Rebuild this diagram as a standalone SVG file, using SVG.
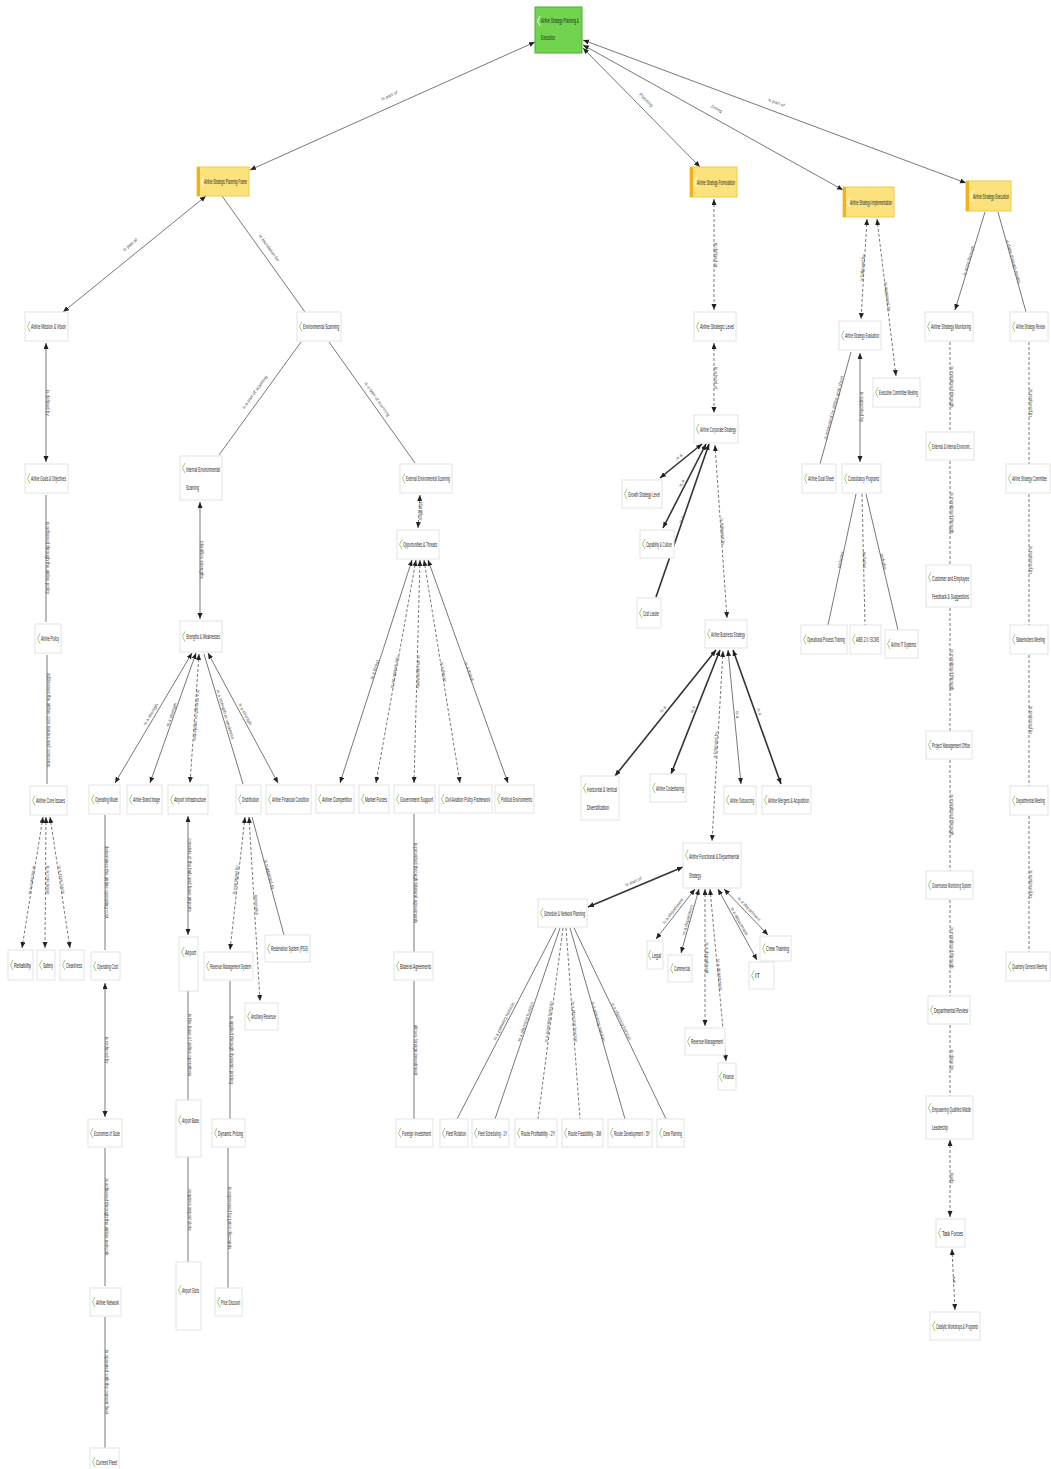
<svg xmlns="http://www.w3.org/2000/svg" width="1051" height="1469" viewBox="0 0 1051 1469">
<defs>
<marker id="ah" markerUnits="userSpaceOnUse" markerWidth="7" markerHeight="6" refX="6" refY="2.5" orient="auto-start-reverse"><path d="M0,0 L6,2.5 L0,5 z" fill="#222"/></marker>
<style>
.node rect.b{fill:#fff;stroke:#e4e4e4;stroke-width:1}
.node path.mk{fill:none;stroke:#9ad17a;stroke-width:1}
.yel rect.b{fill:#fbe27d;stroke:#efc94a}
.yel rect.bar{fill:#f1b31c}
.yel path.mk,.root path.mk{stroke:#fff}
.root rect.b{fill:#72d34e;stroke:#4fae2f}
text.nt{font-family:"Liberation Sans",Arial,sans-serif;font-size:7px;fill:#222}
.e{stroke:#555;stroke-width:.8;fill:none}
.d{stroke-dasharray:3 2}
.t{stroke-width:1.6;stroke:#333}
.a2{marker-start:url(#ah);marker-end:url(#ah)}
.a1{marker-end:url(#ah)}
.as{marker-start:url(#ah)}
text.el{font-family:"Liberation Sans",Arial,sans-serif;font-size:4.5px;fill:#555;text-anchor:middle}
</style>
</defs>
<rect width="1051" height="1469" fill="#fff"/>

<g id="connectors">
<line class="e a2" x1="535" y1="42" x2="250" y2="170"/>
<line class="e a2" x1="583" y1="48" x2="700" y2="167"/>
<line class="e a2" x1="583" y1="45" x2="843" y2="190"/>
<line class="e a2" x1="583" y1="40" x2="966" y2="183"/>
<line class="e a2" x1="206" y1="196" x2="63" y2="312"/>
<line class="e" x1="222" y1="196" x2="305" y2="312"/>
<line class="e a2" x1="46" y1="343" x2="46" y2="462"/>
<line class="e" x1="46" y1="495" x2="46" y2="622"/>
<line class="e" x1="47" y1="655" x2="47" y2="784"/>
<line class="e d a2" x1="43" y1="817" x2="22" y2="948"/>
<line class="e d a2" x1="46" y1="817" x2="45" y2="948"/>
<line class="e d a2" x1="50" y1="817" x2="70" y2="948"/>
<line class="e" x1="301" y1="342" x2="219" y2="455"/>
<line class="e" x1="329" y1="342" x2="415" y2="463"/>
<line class="e a2" x1="200" y1="502" x2="200" y2="619"/>
<line class="e d a2" x1="420" y1="495" x2="418" y2="528"/>
<line class="e a2" x1="192" y1="653" x2="115" y2="783"/>
<line class="e a2" x1="196" y1="653" x2="150" y2="783"/>
<line class="e d a2" x1="199" y1="654" x2="190" y2="783"/>
<line class="e" x1="204" y1="654" x2="243" y2="784"/>
<line class="e a2" x1="208" y1="653" x2="278" y2="783"/>
<line class="e" x1="105" y1="815" x2="105" y2="950"/>
<line class="e a2" x1="105" y1="983" x2="105" y2="1117"/>
<line class="e" x1="105" y1="1148" x2="105" y2="1286"/>
<line class="e" x1="105" y1="1317" x2="105" y2="1448"/>
<line class="e a2" x1="188" y1="816" x2="188" y2="935"/>
<line class="e" x1="188" y1="991" x2="188" y2="1100"/>
<line class="e" x1="188" y1="1157" x2="188" y2="1262"/>
<line class="e d a2" x1="245" y1="817" x2="230" y2="950"/>
<line class="e d a2" x1="249" y1="817" x2="260" y2="1001"/>
<line class="e" x1="252" y1="817" x2="284" y2="935"/>
<line class="e" x1="230" y1="981" x2="230" y2="1119"/>
<line class="e" x1="228" y1="1148" x2="228" y2="1288"/>
<line class="e a2" x1="412" y1="560" x2="340" y2="783"/>
<line class="e d a2" x1="416" y1="560" x2="376" y2="783"/>
<line class="e d a2" x1="420" y1="560" x2="414" y2="783"/>
<line class="e d a2" x1="424" y1="560" x2="460" y2="783"/>
<line class="e a2" x1="428" y1="560" x2="508" y2="783"/>
<line class="e" x1="414" y1="814" x2="414" y2="952"/>
<line class="e" x1="414" y1="981" x2="414" y2="1119"/>
<line class="e d a2" x1="714" y1="199" x2="714" y2="310"/>
<line class="e d a2" x1="714" y1="343" x2="714" y2="413"/>
<line class="e t a2" x1="702" y1="444" x2="660" y2="478"/>
<line class="e t a2" x1="706" y1="444" x2="663" y2="528"/>
<line class="e t as" x1="709" y1="444" x2="656" y2="597"/>
<line class="e d a2" x1="715" y1="445" x2="727" y2="618"/>
<line class="e t a2" x1="716" y1="650" x2="615" y2="776"/>
<line class="e t a2" x1="720" y1="650" x2="671" y2="774"/>
<line class="e a2" x1="728" y1="650" x2="741" y2="784"/>
<line class="e t a2" x1="733" y1="650" x2="781" y2="784"/>
<line class="e d a2" x1="723" y1="651" x2="712" y2="841"/>
<line class="e t a2" x1="683" y1="867" x2="588" y2="907"/>
<line class="e a2" x1="695" y1="889" x2="656" y2="939"/>
<line class="e a2" x1="699" y1="889" x2="681" y2="953"/>
<line class="e d a2" x1="705" y1="889" x2="705" y2="1026"/>
<line class="e d a2" x1="710" y1="889" x2="726" y2="1061"/>
<line class="e a2" x1="718" y1="889" x2="757" y2="960"/>
<line class="e a2" x1="724" y1="889" x2="768" y2="935"/>
<line class="e" x1="556" y1="928" x2="457" y2="1119"/>
<line class="e" x1="560" y1="928" x2="495" y2="1119"/>
<line class="e d" x1="563" y1="928" x2="538" y2="1119"/>
<line class="e d" x1="566" y1="928" x2="580" y2="1119"/>
<line class="e" x1="570" y1="928" x2="625" y2="1119"/>
<line class="e" x1="574" y1="928" x2="666" y2="1119"/>
<line class="e d a2" x1="867" y1="219" x2="861" y2="319"/>
<line class="e d a2" x1="877" y1="219" x2="896" y2="376"/>
<line class="e" x1="851" y1="352" x2="820" y2="464"/>
<line class="e a2" x1="860" y1="353" x2="860" y2="462"/>
<line class="e" x1="856" y1="494" x2="828" y2="625"/>
<line class="e d" x1="862" y1="494" x2="865" y2="625"/>
<line class="e" x1="866" y1="494" x2="898" y2="630"/>
<line class="e a1" x1="985" y1="212" x2="955" y2="310"/>
<line class="e" x1="998" y1="212" x2="1026" y2="312"/>
<line class="e d" x1="950" y1="342" x2="950" y2="432"/>
<line class="e d" x1="950" y1="461" x2="950" y2="565"/>
<line class="e d" x1="950" y1="608" x2="950" y2="731"/>
<line class="e d" x1="950" y1="760" x2="950" y2="871"/>
<line class="e d" x1="950" y1="900" x2="950" y2="996"/>
<line class="e d" x1="950" y1="1025" x2="950" y2="1096"/>
<line class="e d a2" x1="950" y1="1140" x2="950" y2="1217"/>
<line class="e d a2" x1="952" y1="1249" x2="955" y2="1310"/>
<line class="e d" x1="1029" y1="342" x2="1029" y2="464"/>
<line class="e d" x1="1029" y1="494" x2="1029" y2="625"/>
<line class="e d" x1="1029" y1="655" x2="1029" y2="786"/>
<line class="e d" x1="1029" y1="816" x2="1029" y2="952"/>

<text class="el" transform="translate(390,97) rotate(-24)">is part of</text>
<text class="el" transform="translate(645,101) rotate(45)">Planning</text>
<text class="el" transform="translate(716,110) rotate(29)">Doing</text>
<text class="el" transform="translate(776,104) rotate(20)">is part of</text>
<text class="el" transform="translate(131,246) rotate(-39)">is part of</text>
<text class="el" transform="translate(268,249) rotate(54)">is foundation for</text>
<text class="el" transform="translate(46,403) rotate(90)">is defined by</text>
<text class="el" transform="translate(46,558) rotate(90)">is achieved through the airline policy</text>
<text class="el" transform="translate(47,720) rotate(90)">addresses the airline core issues and concerns</text>
<text class="el" transform="translate(33,880) rotate(-81)">is a core issue</text>
<text class="el" transform="translate(46,880) rotate(90)">is a core issue</text>
<text class="el" transform="translate(60,880) rotate(81)">is a core issue</text>
<text class="el" transform="translate(256,393) rotate(-54)">is a part of scanning</text>
<text class="el" transform="translate(376,400) rotate(55)">is a type of scanning</text>
<text class="el" transform="translate(200,560) rotate(90)">identifies strengths</text>
<text class="el" transform="translate(419,511) rotate(90)">identifies</text>
<text class="el" transform="translate(152,715) rotate(-59)">is a strength</text>
<text class="el" transform="translate(173,715) rotate(-70)">is a strength</text>
<text class="el" transform="translate(195,715) rotate(94)">is a strength or weakness</text>
<text class="el" transform="translate(224,715) rotate(73)">is a strength or weakness</text>
<text class="el" transform="translate(244,715) rotate(62)">is a strength</text>
<text class="el" transform="translate(105,882) rotate(90)">determines the airline operating cost</text>
<text class="el" transform="translate(105,1050) rotate(90)">is reduced by</text>
<text class="el" transform="translate(105,1217) rotate(90)">is achieved through the airline network</text>
<text class="el" transform="translate(105,1382) rotate(90)">is operated with the current fleet</text>
<text class="el" transform="translate(188,875) rotate(90)">consists of the hub and base airports</text>
<text class="el" transform="translate(188,1045) rotate(90)">is the base of airline operations</text>
<text class="el" transform="translate(188,1210) rotate(90)">requires airport slots</text>
<text class="el" transform="translate(237,880) rotate(-84)">is managed by</text>
<text class="el" transform="translate(255,905) rotate(87)">generates</text>
<text class="el" transform="translate(268,875) rotate(75)">is supported by</text>
<text class="el" transform="translate(230,1050) rotate(90)">is applied through dynamic pricing</text>
<text class="el" transform="translate(228,1218) rotate(90)">is expressed by price discounts</text>
<text class="el" transform="translate(376,670) rotate(-72)">is a threat</text>
<text class="el" transform="translate(396,672) rotate(-80)">is an opportunity</text>
<text class="el" transform="translate(417,672) rotate(91)">is an opportunity</text>
<text class="el" transform="translate(442,672) rotate(81)">is a threat</text>
<text class="el" transform="translate(468,672) rotate(70)">is a threat</text>
<text class="el" transform="translate(414,883) rotate(90)">is provided through bilateral agreements</text>
<text class="el" transform="translate(414,1050) rotate(90)">allows foreign investment</text>
<text class="el" transform="translate(714,255) rotate(90)">is defined at</text>
<text class="el" transform="translate(714,378) rotate(90)">is a level of</text>
<text class="el" transform="translate(680,458) rotate(-39)">is a</text>
<text class="el" transform="translate(683,484) rotate(-63)">is a</text>
<text class="el" transform="translate(683,520) rotate(-71)">is a</text>
<text class="el" transform="translate(721,532) rotate(86)">is followed by</text>
<text class="el" transform="translate(664,710) rotate(-51)">is a</text>
<text class="el" transform="translate(694,710) rotate(-68)">is a</text>
<text class="el" transform="translate(736,715) rotate(84)">is a</text>
<text class="el" transform="translate(758,712) rotate(70)">is a</text>
<text class="el" transform="translate(717,745) rotate(-87)">is followed by</text>
<text class="el" transform="translate(634,883) rotate(-23)">is part of</text>
<text class="el" transform="translate(674,912) rotate(-52)">is a department</text>
<text class="el" transform="translate(689,920) rotate(-74)">is a department</text>
<text class="el" transform="translate(705,958) rotate(90)">is a department</text>
<text class="el" transform="translate(718,975) rotate(85)">is a department</text>
<text class="el" transform="translate(738,922) rotate(61)">is a department</text>
<text class="el" transform="translate(748,910) rotate(47)">is a department</text>
<text class="el" transform="translate(505,1022) rotate(-63)">is a planning horizon</text>
<text class="el" transform="translate(527,1022) rotate(-71)">is a planning horizon</text>
<text class="el" transform="translate(550,1022) rotate(-83)">is a planning horizon</text>
<text class="el" transform="translate(573,1022) rotate(86)">is a planning horizon</text>
<text class="el" transform="translate(597,1022) rotate(74)">is a planning horizon</text>
<text class="el" transform="translate(620,1022) rotate(64)">is a planning horizon</text>
<text class="el" transform="translate(864,268) rotate(-86)">is followed by</text>
<text class="el" transform="translate(886,297) rotate(83)">is approved by</text>
<text class="el" transform="translate(835,408) rotate(-75)">is measured by airline goal sheet</text>
<text class="el" transform="translate(860,407) rotate(90)">is supported by</text>
<text class="el" transform="translate(842,560) rotate(-78)">includes</text>
<text class="el" transform="translate(863,560) rotate(89)">includes</text>
<text class="el" transform="translate(882,562) rotate(77)">includes</text>
<text class="el" transform="translate(970,261) rotate(-73)">is done through</text>
<text class="el" transform="translate(1012,262) rotate(74)">is done through review</text>
<text class="el" transform="translate(950,387) rotate(90)">is monitored through</text>
<text class="el" transform="translate(950,513) rotate(90)">is monitored through</text>
<text class="el" transform="translate(950,670) rotate(90)">is monitored through</text>
<text class="el" transform="translate(950,815) rotate(90)">is monitored through</text>
<text class="el" transform="translate(950,948) rotate(90)">is monitored through</text>
<text class="el" transform="translate(950,1060) rotate(90)">is done by</text>
<text class="el" transform="translate(950,1178) rotate(90)">leads</text>
<text class="el" transform="translate(953,1280) rotate(87)">run</text>
<text class="el" transform="translate(1029,403) rotate(90)">is reviewed in</text>
<text class="el" transform="translate(1029,560) rotate(90)">is reviewed in</text>
<text class="el" transform="translate(1029,720) rotate(90)">is reviewed in</text>
<text class="el" transform="translate(1029,884) rotate(90)">is reviewed in</text>
</g>

<g id="n-root" class="node root"><rect class="b" x="535" y="7" width="47" height="46"/><path class="mk" d="M540,16 L537.5,21 L540,26"/><text class="nt" x="541" y="23" textLength="38" lengthAdjust="spacingAndGlyphs">Airline Strategy Planning &amp;</text><text class="nt" x="541" y="40" textLength="14" lengthAdjust="spacingAndGlyphs">Execution</text></g>

<g id="n-frame" class="node yel"><rect class="b" x="197" y="167" width="52" height="29"/><rect class="bar" x="197" y="167" width="3" height="29"/><path class="mk" d="M204,176.5 L201.5,181.5 L204,186.5"/><text class="nt" x="204" y="184" textLength="43" lengthAdjust="spacingAndGlyphs">Airline Strategic Planning Frame</text></g>
<g id="n-form" class="node yel"><rect class="b" x="690" y="167" width="47" height="30"/><rect class="bar" x="690" y="167" width="3" height="30"/><path class="mk" d="M697,177 L694.5,182 L697,187"/><text class="nt" x="697" y="185" textLength="38" lengthAdjust="spacingAndGlyphs">Airline Strategy Formulation</text></g>
<g id="n-impl" class="node yel"><rect class="b" x="843" y="187" width="51" height="30"/><rect class="bar" x="843" y="187" width="3" height="30"/><path class="mk" d="M850,197 L847.5,202 L850,207"/><text class="nt" x="850" y="205" textLength="42" lengthAdjust="spacingAndGlyphs">Airline Strategy Implementation</text></g>
<g id="n-exec" class="node yel"><rect class="b" x="966" y="181" width="45" height="30"/><rect class="bar" x="966" y="181" width="3" height="30"/><path class="mk" d="M973,191 L970.5,196 L973,201"/><text class="nt" x="973" y="199" textLength="36" lengthAdjust="spacingAndGlyphs">Airline Strategy Execution</text></g>

<g id="n-mv" class="node"><rect class="b" x="25" y="312" width="43" height="29"/><path class="mk" d="M30,321.5 L27.5,326.5 L30,331.5"/><text class="nt" x="31" y="329" textLength="35" lengthAdjust="spacingAndGlyphs">Airline Mission &amp; Vision</text></g>
<g id="n-env" class="node"><rect class="b" x="297" y="312" width="44" height="29"/><path class="mk" d="M302,321.5 L299.5,326.5 L302,331.5"/><text class="nt" x="303" y="329" textLength="36" lengthAdjust="spacingAndGlyphs">Environmental Scanning</text></g>
<g id="n-goals" class="node"><rect class="b" x="25" y="464" width="43" height="29"/><path class="mk" d="M30,473.5 L27.5,478.5 L30,483.5"/><text class="nt" x="31" y="481" textLength="35" lengthAdjust="spacingAndGlyphs">Airline Goals &amp; Objectives</text></g>
<g id="n-policy" class="node"><rect class="b" x="35" y="624" width="26" height="29"/><path class="mk" d="M40,633.5 L37.5,638.5 L40,643.5"/><text class="nt" x="41" y="641" textLength="18" lengthAdjust="spacingAndGlyphs">Airline Policy</text></g>
<g id="n-core" class="node"><rect class="b" x="30" y="786" width="37" height="29"/><path class="mk" d="M35,795.5 L32.5,800.5 L35,805.5"/><text class="nt" x="36" y="803" textLength="29" lengthAdjust="spacingAndGlyphs">Airline Core Issues</text></g>
<g id="n-rel" class="node"><rect class="b" x="8" y="950" width="25" height="30"/><path class="mk" d="M13,960 L10.5,965 L13,970"/><text class="nt" x="14" y="968" textLength="17" lengthAdjust="spacingAndGlyphs">Reliability</text></g>
<g id="n-safety" class="node"><rect class="b" x="37" y="950" width="18" height="30"/><path class="mk" d="M42,960 L39.5,965 L42,970"/><text class="nt" x="43" y="968" textLength="10" lengthAdjust="spacingAndGlyphs">Safety</text></g>
<g id="n-clean" class="node"><rect class="b" x="60" y="950" width="24" height="30"/><path class="mk" d="M65,960 L62.5,965 L65,970"/><text class="nt" x="66" y="968" textLength="16" lengthAdjust="spacingAndGlyphs">Cleanliness</text></g>

<g id="n-int" class="node"><rect class="b" x="180" y="456" width="42" height="44"/><path class="mk" d="M185,463 L182.5,468 L185,473"/><text class="nt" x="186" y="472" textLength="34" lengthAdjust="spacingAndGlyphs">Internal Environmental</text><text class="nt" x="186" y="490" textLength="13" lengthAdjust="spacingAndGlyphs">Scanning</text></g>
<g id="n-ext" class="node"><rect class="b" x="400" y="464" width="52" height="29"/><path class="mk" d="M405,473.5 L402.5,478.5 L405,483.5"/><text class="nt" x="406" y="481" textLength="44" lengthAdjust="spacingAndGlyphs">External Environmental Scanning</text></g>
<g id="n-sw" class="node"><rect class="b" x="180" y="621" width="42" height="31"/><path class="mk" d="M185,631.5 L182.5,636.5 L185,641.5"/><text class="nt" x="186" y="639" textLength="34" lengthAdjust="spacingAndGlyphs">Strengths &amp; Weaknesses</text></g>
<g id="n-ot" class="node"><rect class="b" x="397" y="530" width="42" height="29"/><path class="mk" d="M402,539.5 L399.5,544.5 L402,549.5"/><text class="nt" x="403" y="547" textLength="34" lengthAdjust="spacingAndGlyphs">Opportunities &amp; Threats</text></g>

<g id="n-opm" class="node"><rect class="b" x="89" y="785" width="31" height="29"/><path class="mk" d="M94,794.5 L91.5,799.5 L94,804.5"/><text class="nt" x="95" y="802" textLength="23" lengthAdjust="spacingAndGlyphs">Operating Model</text></g>
<g id="n-brand" class="node"><rect class="b" x="127" y="785" width="35" height="29"/><path class="mk" d="M132,794.5 L129.5,799.5 L132,804.5"/><text class="nt" x="133" y="802" textLength="27" lengthAdjust="spacingAndGlyphs">Airline Brand Image</text></g>
<g id="n-apinf" class="node"><rect class="b" x="168" y="785" width="40" height="29"/><path class="mk" d="M173,794.5 L170.5,799.5 L173,804.5"/><text class="nt" x="174" y="802" textLength="32" lengthAdjust="spacingAndGlyphs">Airport Infrastructure</text></g>
<g id="n-dist" class="node"><rect class="b" x="236" y="785" width="25" height="29"/><path class="mk" d="M241,794.5 L238.5,799.5 L241,804.5"/><text class="nt" x="242" y="802" textLength="17" lengthAdjust="spacingAndGlyphs">Distribution</text></g>
<g id="n-fin" class="node"><rect class="b" x="266" y="785" width="45" height="29"/><path class="mk" d="M271,794.5 L268.5,799.5 L271,804.5"/><text class="nt" x="272" y="802" textLength="37" lengthAdjust="spacingAndGlyphs">Airline Financial Condition</text></g>

<g id="n-opcost" class="node"><rect class="b" x="91" y="952" width="29" height="28"/><path class="mk" d="M96,961 L93.5,966 L96,971"/><text class="nt" x="97" y="969" textLength="21" lengthAdjust="spacingAndGlyphs">Operating Cost</text></g>
<g id="n-eos" class="node"><rect class="b" x="88" y="1119" width="34" height="28"/><path class="mk" d="M93,1128 L90.5,1133 L93,1138"/><text class="nt" x="94" y="1136" textLength="26" lengthAdjust="spacingAndGlyphs">Economies of Scale</text></g>
<g id="n-net" class="node"><rect class="b" x="90" y="1288" width="31" height="28"/><path class="mk" d="M95,1297 L92.5,1302 L95,1307"/><text class="nt" x="96" y="1305" textLength="23" lengthAdjust="spacingAndGlyphs">Airline Network</text></g>
<g id="n-fleet" class="node"><rect class="b" x="90" y="1448" width="29" height="28"/><path class="mk" d="M95,1457 L92.5,1462 L95,1467"/><text class="nt" x="96" y="1465" textLength="21" lengthAdjust="spacingAndGlyphs">Current Fleet</text></g>

<g id="n-airport" class="node"><rect class="b" x="179" y="937" width="19" height="54"/><path class="mk" d="M184,947 L181.5,952 L184,957"/><text class="nt" x="185" y="955" textLength="11" lengthAdjust="spacingAndGlyphs">Airport</text></g>
<g id="n-apbase" class="node"><rect class="b" x="176" y="1100" width="25" height="57"/><path class="mk" d="M181,1115 L178.5,1120 L181,1125"/><text class="nt" x="182" y="1123" textLength="17" lengthAdjust="spacingAndGlyphs">Airport Base</text></g>
<g id="n-apslots" class="node"><rect class="b" x="176" y="1262" width="25" height="68"/><path class="mk" d="M181,1285 L178.5,1290 L181,1295"/><text class="nt" x="182" y="1293" textLength="17" lengthAdjust="spacingAndGlyphs">Airport Slots</text></g>

<g id="n-rms" class="node"><rect class="b" x="204" y="952" width="49" height="28"/><path class="mk" d="M209,961 L206.5,966 L209,971"/><text class="nt" x="210" y="969" textLength="41" lengthAdjust="spacingAndGlyphs">Revenue Management System</text></g>
<g id="n-anc" class="node"><rect class="b" x="245" y="1003" width="33" height="27"/><path class="mk" d="M250,1011.5 L247.5,1016.5 L250,1021.5"/><text class="nt" x="251" y="1019" textLength="25" lengthAdjust="spacingAndGlyphs">Ancillary Revenue</text></g>
<g id="n-res" class="node"><rect class="b" x="265" y="935" width="45" height="27"/><path class="mk" d="M270,943.5 L267.5,948.5 L270,953.5"/><text class="nt" x="271" y="951" textLength="37" lengthAdjust="spacingAndGlyphs">Reservation System (PSS)</text></g>
<g id="n-dyn" class="node"><rect class="b" x="212" y="1119" width="33" height="28"/><path class="mk" d="M217,1128 L214.5,1133 L217,1138"/><text class="nt" x="218" y="1136" textLength="25" lengthAdjust="spacingAndGlyphs">Dynamic Pricing</text></g>
<g id="n-price" class="node"><rect class="b" x="215" y="1288" width="27" height="28"/><path class="mk" d="M220,1297 L217.5,1302 L220,1307"/><text class="nt" x="221" y="1305" textLength="19" lengthAdjust="spacingAndGlyphs">Price Discount</text></g>

<g id="n-comp" class="node"><rect class="b" x="316" y="785" width="38" height="28"/><path class="mk" d="M321,794 L318.5,799 L321,804"/><text class="nt" x="322" y="802" textLength="30" lengthAdjust="spacingAndGlyphs">Airline Competition</text></g>
<g id="n-mkt" class="node"><rect class="b" x="359" y="785" width="30" height="28"/><path class="mk" d="M364,794 L361.5,799 L364,804"/><text class="nt" x="365" y="802" textLength="22" lengthAdjust="spacingAndGlyphs">Market Forces</text></g>
<g id="n-gov" class="node"><rect class="b" x="394" y="785" width="41" height="28"/><path class="mk" d="M399,794 L396.5,799 L399,804"/><text class="nt" x="400" y="802" textLength="33" lengthAdjust="spacingAndGlyphs">Government Support</text></g>
<g id="n-civil" class="node"><rect class="b" x="439" y="785" width="53" height="28"/><path class="mk" d="M444,794 L441.5,799 L444,804"/><text class="nt" x="445" y="802" textLength="45" lengthAdjust="spacingAndGlyphs">Civil Aviation Policy Framework</text></g>
<g id="n-pol" class="node"><rect class="b" x="495" y="785" width="39" height="28"/><path class="mk" d="M500,794 L497.5,799 L500,804"/><text class="nt" x="501" y="802" textLength="31" lengthAdjust="spacingAndGlyphs">Political Environments</text></g>
<g id="n-bil" class="node"><rect class="b" x="394" y="952" width="39" height="28"/><path class="mk" d="M399,961 L396.5,966 L399,971"/><text class="nt" x="400" y="969" textLength="31" lengthAdjust="spacingAndGlyphs">Bilateral Agreements</text></g>
<g id="n-fdi" class="node"><rect class="b" x="396" y="1119" width="37" height="28"/><path class="mk" d="M401,1128 L398.5,1133 L401,1138"/><text class="nt" x="402" y="1136" textLength="29" lengthAdjust="spacingAndGlyphs">Foreign Investment</text></g>

<g id="n-slevel" class="node"><rect class="b" x="694" y="312" width="42" height="29"/><path class="mk" d="M699,321.5 L696.5,326.5 L699,331.5"/><text class="nt" x="700" y="329" textLength="34" lengthAdjust="spacingAndGlyphs">Airline Strategic Level</text></g>
<g id="n-corp" class="node"><rect class="b" x="694" y="415" width="44" height="28"/><path class="mk" d="M699,424 L696.5,429 L699,434"/><text class="nt" x="700" y="432" textLength="36" lengthAdjust="spacingAndGlyphs">Airline Corporate Strategy</text></g>
<g id="n-growth" class="node"><rect class="b" x="622" y="480" width="40" height="28"/><path class="mk" d="M627,489 L624.5,494 L627,499"/><text class="nt" x="628" y="497" textLength="32" lengthAdjust="spacingAndGlyphs">Growth Strategy Level</text></g>
<g id="n-cap" class="node"><rect class="b" x="640" y="530" width="34" height="28"/><path class="mk" d="M645,539 L642.5,544 L645,549"/><text class="nt" x="646" y="547" textLength="26" lengthAdjust="spacingAndGlyphs">Capability &amp; Culture</text></g>
<g id="n-cost" class="node"><rect class="b" x="637" y="598" width="24" height="30"/><path class="mk" d="M642,608 L639.5,613 L642,618"/><text class="nt" x="643" y="616" textLength="16" lengthAdjust="spacingAndGlyphs">Cost Leader</text></g>
<g id="n-bus" class="node"><rect class="b" x="705" y="620" width="42" height="28"/><path class="mk" d="M710,629 L707.5,634 L710,639"/><text class="nt" x="711" y="637" textLength="34" lengthAdjust="spacingAndGlyphs">Airline Business Strategy</text></g>
<g id="n-horiz" class="node"><rect class="b" x="581" y="776" width="38" height="44"/><path class="mk" d="M586,783 L583.5,788 L586,793"/><text class="nt" x="587" y="792" textLength="30" lengthAdjust="spacingAndGlyphs">Horizontal &amp; Vertical</text><text class="nt" x="587" y="810" textLength="22" lengthAdjust="spacingAndGlyphs">Diversification</text></g>
<g id="n-code" class="node"><rect class="b" x="650" y="774" width="36" height="28"/><path class="mk" d="M655,783 L652.5,788 L655,793"/><text class="nt" x="656" y="791" textLength="28" lengthAdjust="spacingAndGlyphs">Airline Codesharing</text></g>
<g id="n-out" class="node"><rect class="b" x="724" y="786" width="32" height="28"/><path class="mk" d="M729,795 L726.5,800 L729,805"/><text class="nt" x="730" y="803" textLength="24" lengthAdjust="spacingAndGlyphs">Airline Outsourcing</text></g>
<g id="n-merg" class="node"><rect class="b" x="762" y="786" width="49" height="28"/><path class="mk" d="M767,795 L764.5,800 L767,805"/><text class="nt" x="768" y="803" textLength="41" lengthAdjust="spacingAndGlyphs">Airline Mergers &amp; Acquisition</text></g>
<g id="n-func" class="node"><rect class="b" x="683" y="843" width="58" height="45"/><path class="mk" d="M688,850 L685.5,855 L688,860"/><text class="nt" x="689" y="859" textLength="50" lengthAdjust="spacingAndGlyphs">Airline Functional &amp; Departmental</text><text class="nt" x="689" y="878" textLength="12" lengthAdjust="spacingAndGlyphs">Strategy</text></g>
<g id="n-sched" class="node"><rect class="b" x="538" y="899" width="49" height="28"/><path class="mk" d="M543,908 L540.5,913 L543,918"/><text class="nt" x="544" y="916" textLength="41" lengthAdjust="spacingAndGlyphs">Schedule &amp; Network Planning</text></g>

<g id="n-frot" class="node"><rect class="b" x="440" y="1119" width="28" height="28"/><path class="mk" d="M445,1128 L442.5,1133 L445,1138"/><text class="nt" x="446" y="1136" textLength="20" lengthAdjust="spacingAndGlyphs">Fleet Rotation</text></g>
<g id="n-fsch" class="node"><rect class="b" x="472" y="1119" width="37" height="28"/><path class="mk" d="M477,1128 L474.5,1133 L477,1138"/><text class="nt" x="478" y="1136" textLength="29" lengthAdjust="spacingAndGlyphs">Fleet Scheduling - 1Y</text></g>
<g id="n-rprof" class="node"><rect class="b" x="515" y="1119" width="42" height="28"/><path class="mk" d="M520,1128 L517.5,1133 L520,1138"/><text class="nt" x="521" y="1136" textLength="34" lengthAdjust="spacingAndGlyphs">Route Profitability - 2Y</text></g>
<g id="n-rfeas" class="node"><rect class="b" x="562" y="1119" width="41" height="28"/><path class="mk" d="M567,1128 L564.5,1133 L567,1138"/><text class="nt" x="568" y="1136" textLength="33" lengthAdjust="spacingAndGlyphs">Route Feasibility - 3M</text></g>
<g id="n-rdev" class="node"><rect class="b" x="608" y="1119" width="44" height="28"/><path class="mk" d="M613,1128 L610.5,1133 L613,1138"/><text class="nt" x="614" y="1136" textLength="36" lengthAdjust="spacingAndGlyphs">Route Development - 5Y</text></g>
<g id="n-crewp" class="node"><rect class="b" x="657" y="1119" width="27" height="28"/><path class="mk" d="M662,1128 L659.5,1133 L662,1138"/><text class="nt" x="663" y="1136" textLength="19" lengthAdjust="spacingAndGlyphs">Crew Planning</text></g>

<g id="n-legal" class="node"><rect class="b" x="647" y="941" width="16" height="28"/><path class="mk" d="M651,950 L648.5,955 L651,960"/><text class="nt" x="652" y="958" textLength="9" lengthAdjust="spacingAndGlyphs">Legal</text></g>
<g id="n-comm" class="node"><rect class="b" x="668" y="955" width="24" height="27"/><path class="mk" d="M673,963.5 L670.5,968.5 L673,973.5"/><text class="nt" x="674" y="971" textLength="16" lengthAdjust="spacingAndGlyphs">Commercial</text></g>
<g id="n-rm" class="node"><rect class="b" x="685" y="1028" width="40" height="27"/><path class="mk" d="M690,1036.5 L687.5,1041.5 L690,1046.5"/><text class="nt" x="691" y="1044" textLength="32" lengthAdjust="spacingAndGlyphs">Revenue Management</text></g>
<g id="n-finance" class="node"><rect class="b" x="718" y="1063" width="18" height="27"/><path class="mk" d="M722,1071.5 L719.5,1076.5 L722,1081.5"/><text class="nt" x="723" y="1079" textLength="11" lengthAdjust="spacingAndGlyphs">Finance</text></g>
<g id="n-it" class="node"><rect class="b" x="749" y="962" width="25" height="27"/><path class="mk" d="M754,970.5 L751.5,975.5 L754,980.5"/><text class="nt" x="755" y="978" textLength="5" lengthAdjust="spacingAndGlyphs">IT</text></g>
<g id="n-crewt" class="node"><rect class="b" x="760" y="936" width="31" height="25"/><path class="mk" d="M765,943.5 L762.5,948.5 L765,953.5"/><text class="nt" x="766" y="951" textLength="23" lengthAdjust="spacingAndGlyphs">Crew Training</text></g>

<g id="n-eval" class="node"><rect class="b" x="839" y="321" width="42" height="29"/><path class="mk" d="M844,330.5 L841.5,335.5 L844,340.5"/><text class="nt" x="845" y="338" textLength="34" lengthAdjust="spacingAndGlyphs">Airline Strategy Evaluation</text></g>
<g id="n-ecm" class="node"><rect class="b" x="873" y="378" width="47" height="29"/><path class="mk" d="M878,387.5 L875.5,392.5 L878,397.5"/><text class="nt" x="879" y="395" textLength="39" lengthAdjust="spacingAndGlyphs">Executive Committee Meeting</text></g>
<g id="n-goal" class="node"><rect class="b" x="802" y="464" width="34" height="29"/><path class="mk" d="M807,473.5 L804.5,478.5 L807,483.5"/><text class="nt" x="808" y="481" textLength="26" lengthAdjust="spacingAndGlyphs">Airline Goal Sheet</text></g>
<g id="n-cons" class="node"><rect class="b" x="842" y="464" width="39" height="29"/><path class="mk" d="M847,473.5 L844.5,478.5 L847,483.5"/><text class="nt" x="848" y="481" textLength="31" lengthAdjust="spacingAndGlyphs">Consultancy Programs</text></g>
<g id="n-opt" class="node"><rect class="b" x="801" y="625" width="46" height="29"/><path class="mk" d="M806,634.5 L803.5,639.5 L806,644.5"/><text class="nt" x="807" y="642" textLength="38" lengthAdjust="spacingAndGlyphs">Operational Process Training</text></g>
<g id="n-aibs" class="node"><rect class="b" x="850" y="625" width="31" height="29"/><path class="mk" d="M855,634.5 L852.5,639.5 L855,644.5"/><text class="nt" x="856" y="642" textLength="23" lengthAdjust="spacingAndGlyphs">AIBS 2.0 / SCMS</text></g>
<g id="n-its" class="node"><rect class="b" x="885" y="630" width="33" height="28"/><path class="mk" d="M890,639 L887.5,644 L890,649"/><text class="nt" x="891" y="647" textLength="25" lengthAdjust="spacingAndGlyphs">Airline IT Systems</text></g>

<g id="n-mon" class="node"><rect class="b" x="925" y="312" width="48" height="29"/><path class="mk" d="M930,321.5 L927.5,326.5 L930,331.5"/><text class="nt" x="931" y="329" textLength="40" lengthAdjust="spacingAndGlyphs">Airline Strategy Monitoring</text></g>
<g id="n-rev" class="node"><rect class="b" x="1010" y="312" width="38" height="29"/><path class="mk" d="M1015,321.5 L1012.5,326.5 L1015,331.5"/><text class="nt" x="1016" y="329" textLength="29" lengthAdjust="spacingAndGlyphs">Airline Strategy Review</text></g>
<g id="n-ei" class="node"><rect class="b" x="926" y="432" width="48" height="28"/><path class="mk" d="M931,441 L928.5,446 L931,451"/><text class="nt" x="932" y="449" textLength="40" lengthAdjust="spacingAndGlyphs">External &amp; Internal Environm...</text></g>
<g id="n-cust" class="node"><rect class="b" x="926" y="565" width="45" height="42"/><path class="mk" d="M931,572 L928.5,577 L931,582"/><text class="nt" x="932" y="581" textLength="37" lengthAdjust="spacingAndGlyphs">Customer and Employee</text><text class="nt" x="932" y="599" textLength="37" lengthAdjust="spacingAndGlyphs">Feedback &amp; Suggestions</text></g>
<g id="n-pmo" class="node"><rect class="b" x="926" y="731" width="46" height="28"/><path class="mk" d="M931,740 L928.5,745 L931,750"/><text class="nt" x="932" y="748" textLength="38" lengthAdjust="spacingAndGlyphs">Project Management Office</text></g>
<g id="n-gov2" class="node"><rect class="b" x="926" y="871" width="47" height="28"/><path class="mk" d="M931,880 L928.5,885 L931,890"/><text class="nt" x="932" y="888" textLength="39" lengthAdjust="spacingAndGlyphs">Governance Monitoring System</text></g>
<g id="n-dept" class="node"><rect class="b" x="928" y="996" width="42" height="28"/><path class="mk" d="M933,1005 L930.5,1010 L933,1015"/><text class="nt" x="934" y="1013" textLength="34" lengthAdjust="spacingAndGlyphs">Departmental Review</text></g>
<g id="n-emp" class="node"><rect class="b" x="926" y="1096" width="47" height="43"/><path class="mk" d="M931,1103 L928.5,1108 L931,1113"/><text class="nt" x="932" y="1112" textLength="39" lengthAdjust="spacingAndGlyphs">Empowering Qualified Middle</text><text class="nt" x="932" y="1130" textLength="16" lengthAdjust="spacingAndGlyphs">Leadership</text></g>
<g id="n-task" class="node"><rect class="b" x="936" y="1219" width="29" height="28"/><path class="mk" d="M941,1228 L938.5,1233 L941,1238"/><text class="nt" x="942" y="1236" textLength="21" lengthAdjust="spacingAndGlyphs">Task Forces</text></g>
<g id="n-cat" class="node"><rect class="b" x="930" y="1312" width="50" height="28"/><path class="mk" d="M935,1321 L932.5,1326 L935,1331"/><text class="nt" x="936" y="1329" textLength="42" lengthAdjust="spacingAndGlyphs">Catalytic Workshops &amp; Programs</text></g>
<g id="n-sc" class="node"><rect class="b" x="1006" y="464" width="44" height="29"/><path class="mk" d="M1011,473.5 L1008.5,478.5 L1011,483.5"/><text class="nt" x="1012" y="481" textLength="35" lengthAdjust="spacingAndGlyphs">Airline Strategy Committee</text></g>
<g id="n-stake" class="node"><rect class="b" x="1010" y="625" width="38" height="29"/><path class="mk" d="M1015,634.5 L1012.5,639.5 L1015,644.5"/><text class="nt" x="1016" y="642" textLength="29" lengthAdjust="spacingAndGlyphs">Stakeholders Meeting</text></g>
<g id="n-dmeet" class="node"><rect class="b" x="1010" y="786" width="38" height="29"/><path class="mk" d="M1015,795.5 L1012.5,800.5 L1015,805.5"/><text class="nt" x="1016" y="803" textLength="29" lengthAdjust="spacingAndGlyphs">Departmental Meeting</text></g>
<g id="n-qgm" class="node"><rect class="b" x="1006" y="952" width="44" height="29"/><path class="mk" d="M1011,961.5 L1008.5,966.5 L1011,971.5"/><text class="nt" x="1012" y="969" textLength="35" lengthAdjust="spacingAndGlyphs">Quarterly General Meeting</text></g>
</svg>
